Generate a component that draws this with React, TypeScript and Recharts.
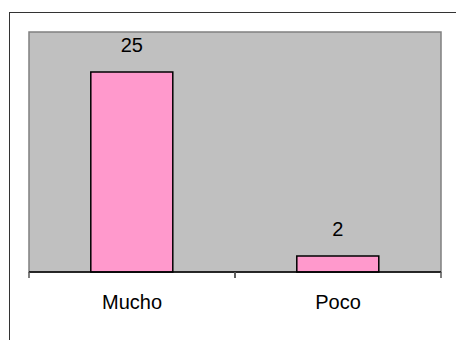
import { BarChart, Bar, XAxis, YAxis, ReferenceArea, LabelList } from "recharts";

const categories = ["Mucho", "Poco"];
const counts = [25, 2];

const data = categories.map((name, i) => ({ name, value: counts[i] }));

const font = "'Liberation Sans', Arial, sans-serif";
const TICK_LEN = 6;
const LABEL_GAP = 17;

// category label plus tick marks on both band edges (Excel style)
function EdgeTick(props: any) {
  const { x, y, payload } = props;
  const half = payload && payload.offset ? payload.offset : 103;
  return (
    <g>
      <line x1={x - half} x2={x - half} y1={y - TICK_LEN} y2={y} stroke="#555" strokeWidth={1.5} />
      <line x1={x + half} x2={x + half} y1={y - TICK_LEN} y2={y} stroke="#555" strokeWidth={1.5} />
      <text
        x={x}
        y={y + LABEL_GAP}
        dy="0.71em"
        textAnchor="middle"
        fill="#000"
        fontSize={20}
        fontFamily={font}
      >
        {payload.value}
      </text>
    </g>
  );
}

export default function App() {
  return (
    <div
      style={{
        position: "absolute",
        left: 0,
        top: 0,
        width: 456,
        height: 340,
        background: "#fff",
        overflow: "hidden",
        fontFamily: font,
      }}
    >
      <div
        style={{
          position: "absolute",
          left: 9,
          top: 12,
          width: 500,
          height: 400,
          borderLeft: "1.5px solid #333",
          borderTop: "1.5px solid #333",
        }}
      />
      <div style={{ position: "absolute", left: 0, top: 0 }}>
        <BarChart
          width={456}
          height={340}
          data={data}
          margin={{ top: 32, right: 15, bottom: 0, left: 29 }}
          barCategoryGap="30%"
        >
          <XAxis
            dataKey="name"
            height={68}
            axisLine={{ stroke: "#000", strokeWidth: 1.5 }}
            tickLine={false}
            tickSize={TICK_LEN}
            tickMargin={0}
            tick={<EdgeTick />}
          />
          <YAxis hide domain={[0, 30]} />
          <ReferenceArea
            x1="Mucho"
            x2="Poco"
            y1={0}
            y2={30}
            fill="#C0C0C0"
            fillOpacity={1}
            stroke="#808080"
            strokeWidth={1.5}
          />
          <Bar
            dataKey="value"
            fill="#FF99CC"
            stroke="#000"
            strokeWidth={1.5}
            isAnimationActive={false}
          >
            <LabelList
              dataKey="value"
              position="top"
              offset={20}
              fill="#000"
              fontSize={20}
              fontFamily={font}
            />
          </Bar>
        </BarChart>
      </div>
    </div>
  );
}
